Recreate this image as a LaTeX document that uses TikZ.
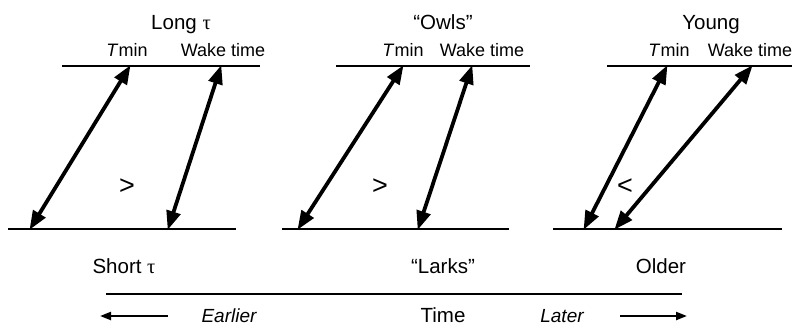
\documentclass[tikz,border=0pt]{standalone}
\usepackage{fontspec}
\setmainfont{Liberation Sans}
\newfontfamily\taufont{Liberation Serif}
\usetikzlibrary{arrows.meta}
\newcommand{\ttau}{{\taufont τ}}
\begin{document}
\begin{tikzpicture}[x=1pt,y=-1pt,
  title/.style={anchor=base,inner sep=0pt,font=\fontsize{20.5}{24}\selectfont},
  sub/.style={anchor=base,inner sep=0pt,font=\fontsize{18}{22}\selectfont},
  dir/.style={anchor=base,inner sep=0pt,font=\fontsize{19}{23}\selectfont\itshape},
  cmp/.style={anchor=center,inner sep=0pt,font=\fontsize{27}{30}\selectfont},
  level/.style={line width=2.6pt},
  axis/.style={line width=1.1pt},
  dbl/.style={line width=3.8pt,{Triangle[length=19pt,width=14pt]}-{Triangle[length=19pt,width=14pt]},shorten <=-1pt,shorten >=-1pt},
  sgl/.style={line width=2.2pt,-{Triangle[length=11pt,width=8pt]}}]
\useasboundingbox (0,0) rectangle (792,325);
% panel 1
\coordinate (t1a) at (62,66); \coordinate (t1b) at (260,66);
\coordinate (b1a) at (8,229); \coordinate (b1b) at (236,229);
\draw[level] (t1a) -- (t1b);
\draw[level] (b1a) -- (b1b);
\coordinate (p1tt) at (130,66); \coordinate (p1tb) at (30,229);
\coordinate (p1wt) at (221,66); \coordinate (p1wb) at (168,229);
\draw[dbl] (p1tb) -- (p1tt);
\draw[dbl] (p1wb) -- (p1wt);
\node[title] (n1t) at (181,29) {Long \ttau};
\node[sub] (n1m) at (127,56) {\textit{T}min};
\node[sub] (n1w) at (223,56) {Wake time};
\node[title] (n1b) at (124,273) {Short \ttau};
\node[cmp] (c1) at (127,187) {>};
% panel 2
\coordinate (t2a) at (336,66); \coordinate (t2b) at (530,66);
\coordinate (b2a) at (282,229); \coordinate (b2b) at (509,229);
\draw[level] (t2a) -- (t2b);
\draw[level] (b2a) -- (b2b);
\coordinate (p2tt) at (403,66); \coordinate (p2tb) at (298,229);
\coordinate (p2wt) at (472,66); \coordinate (p2wb) at (418,229);
\draw[dbl] (p2tb) -- (p2tt);
\draw[dbl] (p2wb) -- (p2wt);
\node[title] (n2t) at (443,29) {“Owls”};
\node[sub] (n2m) at (403,56) {\textit{T}min};
\node[sub] (n2w) at (482,56) {Wake time};
\node[title] (n2b) at (443,273) {“Larks”};
\node[cmp] (c2) at (380,187) {>};
% panel 3
\coordinate (t3a) at (607,66); \coordinate (t3b) at (792,66);
\coordinate (b3a) at (553,229); \coordinate (b3b) at (782,229);
\draw[level] (t3a) -- (t3b);
\draw[level] (b3a) -- (b3b);
\coordinate (p3tt) at (667,66); \coordinate (p3tb) at (584,229);
\coordinate (p3wt) at (752,66); \coordinate (p3wb) at (615,229);
\draw[dbl] (p3tb) -- (p3tt);
\draw[dbl] (p3wb) -- (p3wt);
\node[title] (n3t) at (711,29) {Young};
\node[sub] (n3m) at (669,56) {\textit{T}min};
\node[sub] (n3w) at (750,56) {Wake time};
\node[title] (n3b) at (661,273) {Older};
\node[cmp] (c3) at (625,187) {<};
% time axis
\coordinate (axa) at (106,294); \coordinate (axb) at (682,294);
\draw[axis] (axa) -- (axb);
\node[title] (tm) at (443,322) {Time};
\node[dir] (ea) at (229,322) {Earlier};
\node[dir] (la) at (562,322) {Later};
\coordinate (ela) at (168,316); \coordinate (elb) at (100,316);
\coordinate (lla) at (620,316); \coordinate (llb) at (687,316);
\draw[sgl] (ela) -- (elb);
\draw[sgl] (lla) -- (llb);
\end{tikzpicture}
\end{document}
